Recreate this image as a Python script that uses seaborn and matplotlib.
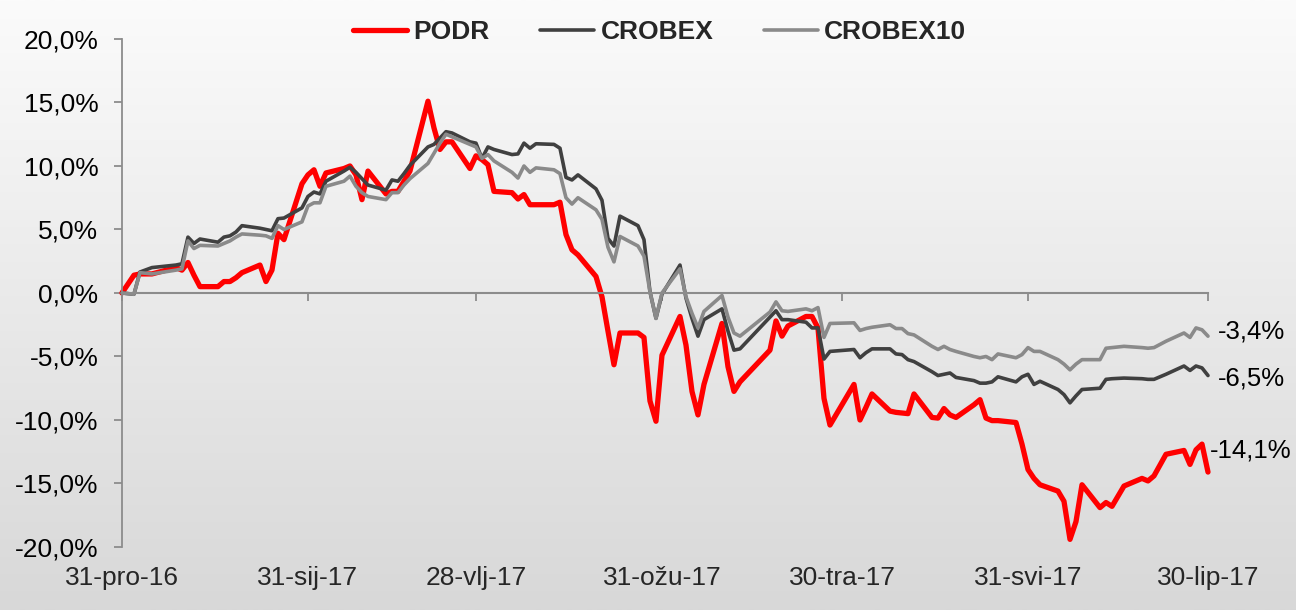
import numpy as np
import pandas as pd
import seaborn as sns
import matplotlib.pyplot as plt
import matplotlib.dates as mdates
from matplotlib.colors import LinearSegmentedColormap
from matplotlib.ticker import FuncFormatter

# Trading days (cumulative return in % since 31-pro-16).
dates = [
    "2016-12-31", "2017-01-02", "2017-01-03", "2017-01-05", "2017-01-09", "2017-01-10",
    "2017-01-11", "2017-01-12", "2017-01-13", "2017-01-16", "2017-01-17", "2017-01-18",
    "2017-01-19", "2017-01-20", "2017-01-23", "2017-01-24", "2017-01-25", "2017-01-26",
    "2017-01-27", "2017-01-30", "2017-01-31", "2017-02-01", "2017-02-02", "2017-02-03",
    "2017-02-06", "2017-02-07", "2017-02-08", "2017-02-09", "2017-02-10", "2017-02-13",
    "2017-02-14", "2017-02-15", "2017-02-16", "2017-02-17", "2017-02-20", "2017-02-21",
    "2017-02-22", "2017-02-23", "2017-02-24", "2017-02-27", "2017-02-28", "2017-03-01",
    "2017-03-02", "2017-03-03", "2017-03-06", "2017-03-07", "2017-03-08", "2017-03-09",
    "2017-03-10", "2017-03-13", "2017-03-14", "2017-03-15", "2017-03-16", "2017-03-17",
    "2017-03-20", "2017-03-21", "2017-03-22", "2017-03-23", "2017-03-24", "2017-03-27",
    "2017-03-28", "2017-03-29", "2017-03-30", "2017-03-31", "2017-04-03", "2017-04-04",
    "2017-04-05", "2017-04-06", "2017-04-07", "2017-04-10", "2017-04-11", "2017-04-12",
    "2017-04-13", "2017-04-18", "2017-04-19", "2017-04-20", "2017-04-21", "2017-04-24",
    "2017-04-25", "2017-04-26", "2017-04-27", "2017-04-28", "2017-05-02", "2017-05-03",
    "2017-05-04", "2017-05-05", "2017-05-08", "2017-05-09", "2017-05-10", "2017-05-11",
    "2017-05-12", "2017-05-15", "2017-05-16", "2017-05-17", "2017-05-18", "2017-05-19",
    "2017-05-22", "2017-05-23", "2017-05-24", "2017-05-25", "2017-05-26", "2017-05-29",
    "2017-05-30", "2017-05-31", "2017-06-01", "2017-06-02", "2017-06-05", "2017-06-06",
    "2017-06-07", "2017-06-08", "2017-06-09", "2017-06-12", "2017-06-13", "2017-06-14",
    "2017-06-16", "2017-06-19", "2017-06-20", "2017-06-21", "2017-06-23", "2017-06-26",
    "2017-06-27", "2017-06-28", "2017-06-29", "2017-06-30",
]

podr = [
    0.0, 1.4, 1.5, 1.5, 2.0, 1.8,
    2.4, 1.4, 0.5, 0.5, 0.9, 0.9,
    1.2, 1.6, 2.2, 0.9, 1.8, 4.7,
    4.2, 8.6, 9.3, 9.7, 8.4, 9.45,
    9.8, 10.0, 9.3, 7.35, 9.6, 7.8,
    8.0, 8.0, 8.8, 9.6, 15.1, 13.0,
    11.3, 11.9, 11.9, 9.8, 10.8, 10.5,
    10.1, 8.0, 7.9, 7.4, 7.75, 6.95,
    6.95, 6.95, 7.15, 4.6, 3.4, 3.0,
    1.3, -0.3, -3.0, -5.65, -3.15, -3.15,
    -3.5, -8.5, -10.1, -4.9, -1.85, -4.1,
    -7.75, -9.6, -7.2, -2.4, -5.8, -7.75,
    -7.0, -4.5, -2.2, -3.4, -2.6, -1.85,
    -1.85, -2.75, -8.3, -10.4, -7.2, -10.0,
    -9.0, -7.95, -9.3, -9.4, -9.45, -9.5,
    -7.95, -9.8, -9.85, -9.1, -9.6, -9.8,
    -8.8, -8.4, -9.85, -10.05, -10.05, -10.2,
    -11.9, -13.9, -14.6, -15.1, -15.6, -16.4,
    -19.4, -18.0, -15.1, -16.9, -16.5, -16.8,
    -15.2, -14.6, -14.8, -14.4, -12.7, -12.4,
    -13.5, -12.35, -11.9, -14.1,
]

crobex = [
    0.0, -0.1, 1.65, 2.0, 2.2, 2.3,
    4.4, 3.9, 4.25, 4.0, 4.4, 4.5,
    4.8, 5.3, 5.1, 5.0, 4.9, 5.85,
    5.9, 6.7, 7.6, 7.95, 7.8, 8.8,
    9.6, 9.9, 9.5, 9.0, 8.5, 8.1,
    8.9, 8.8, 9.4, 10.05, 11.5, 11.7,
    12.2, 12.7, 12.6, 11.9, 11.8, 10.6,
    11.5, 11.3, 10.9, 10.95, 11.8, 11.4,
    11.75, 11.7, 11.4, 9.1, 8.9, 9.3,
    8.2, 7.3, 4.3, 3.7, 6.05, 5.3,
    4.2, 0.1, -2.0, -0.1, 2.2, -0.4,
    -2.0, -3.4, -2.1, -1.25, -3.0, -4.5,
    -4.4, -1.9, -1.4, -2.1, -2.1, -2.3,
    -2.75, -2.75, -5.2, -4.6, -4.45, -5.1,
    -4.7, -4.4, -4.4, -4.8, -4.85, -5.25,
    -5.4, -6.2, -6.5, -6.4, -6.3, -6.65,
    -6.9, -7.1, -7.1, -7.0, -6.6, -7.0,
    -6.6, -6.4, -7.2, -6.95, -7.6, -8.0,
    -8.65, -8.1, -7.6, -7.5, -6.8, -6.75,
    -6.7, -6.75, -6.8, -6.8, -6.4, -5.75,
    -6.1, -5.75, -5.9, -6.5,
]

crobex10 = [
    0.0, -0.1, 1.6, 1.5, 1.8, 1.9,
    4.1, 3.5, 3.75, 3.7, 3.9, 4.1,
    4.4, 4.65, 4.55, 4.5, 4.3, 5.3,
    5.0, 5.6, 6.85, 7.1, 7.1, 8.4,
    8.8, 9.2, 8.4, 7.9, 7.6, 7.35,
    7.9, 7.9, 8.5, 9.0, 10.2, 11.0,
    11.8, 12.5, 12.3, 11.7, 11.5, 10.6,
    10.9, 10.4, 9.5, 9.05, 10.0, 9.5,
    9.85, 9.7, 9.4, 7.5, 7.0, 7.5,
    6.55, 5.8, 3.6, 2.45, 4.45, 3.7,
    2.9, 0.1, -2.0, 0.0, 1.9, -0.3,
    -1.6, -2.75, -1.45, -0.2, -1.9, -3.15,
    -3.4, -1.5, -0.7, -1.4, -1.45, -1.25,
    -1.4, -1.15, -3.5, -2.4, -2.35, -2.95,
    -2.8, -2.7, -2.5, -2.8, -2.8, -3.2,
    -3.3, -4.2, -4.45, -4.2, -4.45, -4.6,
    -5.0, -5.1, -5.0, -5.25, -4.8, -5.1,
    -4.85, -4.3, -4.6, -4.6, -5.25, -5.6,
    -6.05, -5.6, -5.25, -5.25, -4.35, -4.3,
    -4.2, -4.3, -4.35, -4.3, -3.8, -3.15,
    -3.5, -2.75, -2.9, -3.4,
]

tick_dates = ["2016-12-31", "2017-01-31", "2017-02-28", "2017-03-31",
              "2017-04-30", "2017-05-31", "2017-06-30"]
tick_labels = ["31-pro-16", "31-sij-17", "28-vlj-17", "31-ožu-17",
               "30-tra-17", "31-svi-17", "30-lip-17"]


def pct(v, pos=None):
    return f"{v:.1f}%".replace(".", ",")


df = pd.DataFrame({
    "date": pd.to_datetime(dates),
    "PODR": podr,
    "CROBEX": crobex,
    "CROBEX10": crobex10,
})

sns.set_style("white")
plt.rcParams["font.family"] = ["Liberation Sans", "DejaVu Sans"]

fig = plt.figure(figsize=(12.96, 6.10), dpi=100)

# Gradient background over the whole figure.
bg = fig.add_axes([0, 0, 1, 1], zorder=-1)
grad = np.linspace(0, 1, 256).reshape(-1, 1)
bg.imshow(grad, aspect="auto", origin="upper", extent=[0, 1, 0, 1],
          cmap=LinearSegmentedColormap.from_list("bg", ["#fbfbfb", "#d8d8d8"]))
bg.axis("off")

ax = fig.add_axes([0.0941, 0.1033, 0.8380, 0.8328])
ax.set_facecolor("none")

series = [
    ("PODR", "#ff0000", 3.8, (1.4, 15.8)),
    ("CROBEX", "#404040", 2.6, (7.2, -1.8)),
    ("CROBEX10", "#8a8a8a", 2.6, (7.2, 3.6)),
]
for name, color, lw, offset in series:
    sns.lineplot(data=df, x="date", y=name, color=color, linewidth=lw,
                 label=name, ax=ax, clip_on=False)
    ax.annotate(pct(df[name].iloc[-1]), xy=(df["date"].iloc[-1], df[name].iloc[-1]),
                xytext=offset, textcoords="offset points", ha="left", va="center",
                fontsize=18.5, color="black")

ax.set_xlim(pd.Timestamp("2016-12-31"), pd.Timestamp("2017-06-30"))
ax.set_ylim(-20, 20)
ax.set_yticks(range(-20, 25, 5))
ax.yaxis.set_major_formatter(FuncFormatter(pct))
ax.set_xticks(pd.to_datetime(tick_dates))
ax.set_xlabel("")
ax.set_ylabel("")

for side in ["top", "right"]:
    ax.spines[side].set_visible(False)
ax.spines["left"].set_color("#8c8c8c")
ax.spines["left"].set_linewidth(1.3)
ax.spines["bottom"].set_position(("data", 0))
ax.spines["bottom"].set_color("#8c8c8c")
ax.spines["bottom"].set_linewidth(1.5)
ax.tick_params(axis="y", direction="out", length=6, width=1.3, color="#8c8c8c",
               labelsize=19, pad=11, labelcolor="black", left=True)
ax.tick_params(axis="x", direction="out", length=6, width=1.3, color="#8c8c8c",
               labelbottom=False, bottom=True)

# Date labels sit below the plot area, not on the zero line.
sec = ax.secondary_xaxis("bottom")
sec.set_xticks(mdates.date2num(pd.to_datetime(tick_dates)), tick_labels)
sec.tick_params(length=0, pad=14, labelsize=19)
sec.spines["bottom"].set_visible(False)

ax.legend(loc="center", bbox_to_anchor=(0.509, 0.9475), bbox_transform=fig.transFigure,
          ncol=3, frameon=False, prop={"weight": "bold", "size": 19},
          handlelength=2.05, handletextpad=0.25, columnspacing=1.9)

plt.savefig("out.png", dpi=100)
